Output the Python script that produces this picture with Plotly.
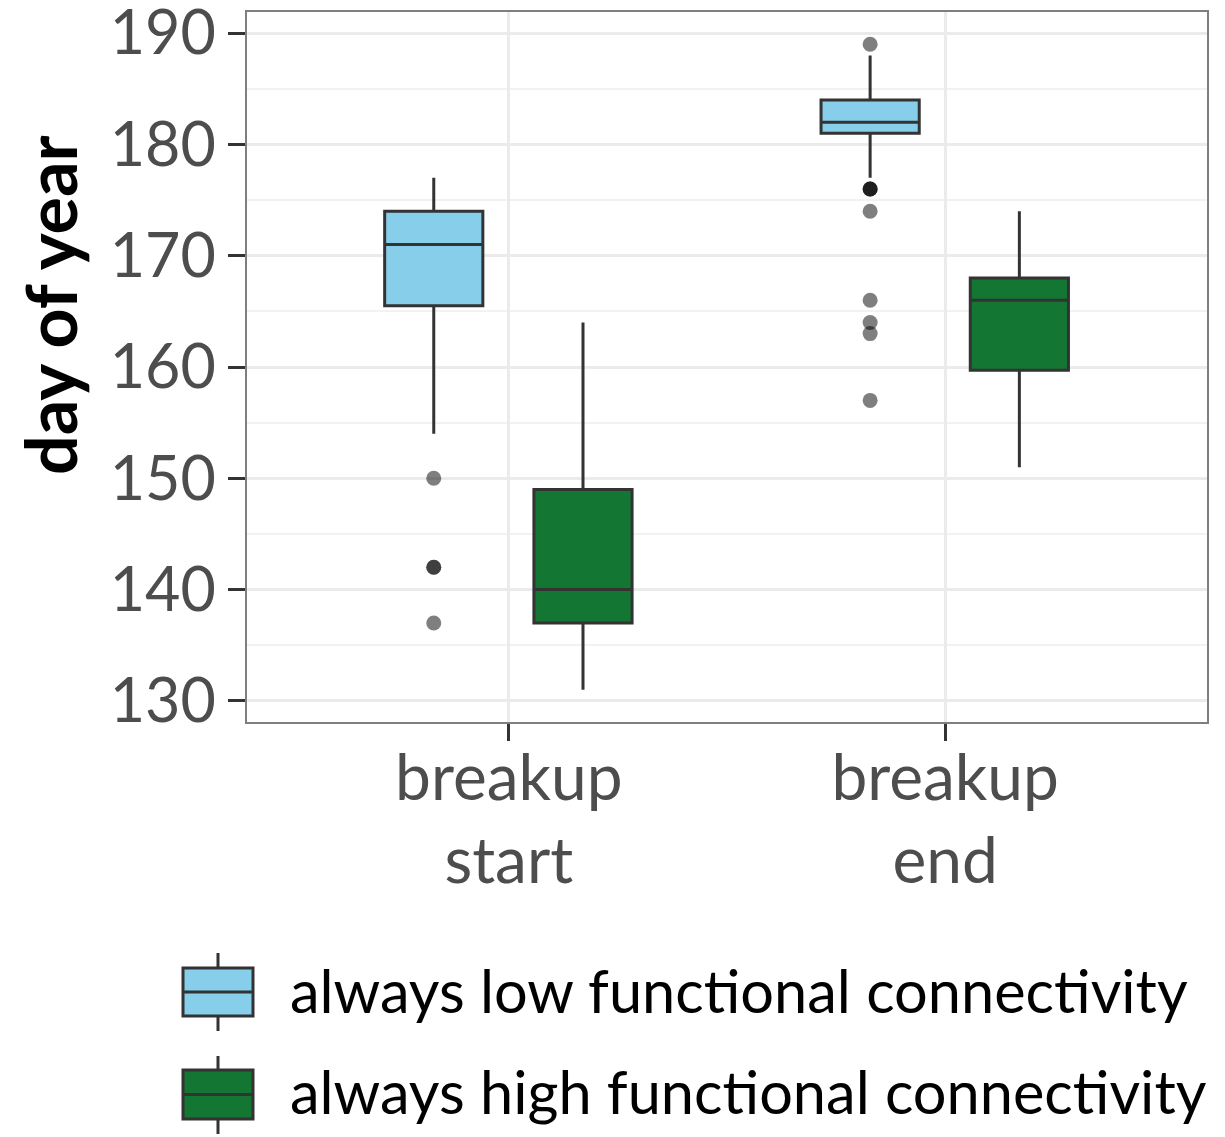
import plotly.graph_objects as go

# ---- data ----
categories = ["breakup<br>start", "breakup<br>end"]
cat_pos = [1, 2]
groups = ["always low functional connectivity", "always high functional connectivity"]
group_colors = ["#87CEEB", "#137633"]
group_offsets = [-0.172, 0.17]
y_ticks = [130, 140, 150, 160, 170, 180, 190]
y_minor = [135, 145, 155, 165, 175, 185]

# per group: [start, end]
low_upper = [177, 188]
low_q3 = [174, 184]
low_median = [171, 182]
low_q1 = [165.5, 181]
low_lower = [154, 177]
low_outliers = [[150, 142, 142, 137], [189, 176, 176, 176, 174, 166, 164, 163, 157]]

high_upper = [164, 174]
high_q3 = [149, 168]
high_median = [140, 166]
high_q1 = [137, 159.7]
high_lower = [131, 151]
high_outliers = [[], []]

stats = [
    (low_lower, low_q1, low_median, low_q3, low_upper, low_outliers),
    (high_lower, high_q1, high_median, high_q3, high_upper, high_outliers),
]

FONT = "Lato"
fig = go.Figure()
BOXW = 0.225
for gi, (lo, q1, med, q3, up, outl) in enumerate(stats):
    xs = [p + group_offsets[gi] for p in cat_pos]
    fig.add_trace(go.Box(
        x=xs, q1=q1, median=med, q3=q3, lowerfence=lo, upperfence=up,
        width=BOXW, whiskerwidth=0, fillcolor=group_colors[gi],
        line=dict(color="#333333", width=3), boxpoints=False,
        name=groups[gi], showlegend=False,
    ))
    ox, oy = [], []
    for ci, vals in enumerate(outl):
        for v in vals:
            ox.append(xs[ci]); oy.append(v)
    if ox:
        fig.add_trace(go.Scatter(
            x=ox, y=oy, mode="markers", showlegend=False,
            marker=dict(color="rgba(0,0,0,0.5)", size=15, line=dict(width=0)),
        ))

# ---- manual legend (ggplot-style key) ----
L, T, PW, PH = 247, 12, 960, 710
def px(x):
    return (x - L) / PW
def py(y):
    return (T + PH - y) / PH

shapes = []
annots = []
leg_rows = [(968, 1016, 953, 1031, 990), (1070, 1119, 1056, 1134, 1091)]
for gi, (bt, bb, wt, wb, ty) in enumerate(leg_rows):
    cx = 218
    shapes.append(dict(type="line", xref="paper", yref="paper", x0=px(cx), x1=px(cx),
                       y0=py(wt), y1=py(wb), line=dict(color="#333333", width=3)))
    shapes.append(dict(type="rect", xref="paper", yref="paper", x0=px(183), x1=px(253),
                       y0=py(bb), y1=py(bt), fillcolor=group_colors[gi],
                       line=dict(color="#333333", width=3)))
    mid = (bt + bb) / 2
    shapes.append(dict(type="line", xref="paper", yref="paper", x0=px(183), x1=px(253),
                       y0=py(mid), y1=py(mid), line=dict(color="#333333", width=3)))
    annots.append(dict(xref="paper", yref="paper", x=px(288), y=py(ty), xanchor="left",
                       yanchor="middle", text=groups[gi], showarrow=False,
                       font=dict(family=FONT, size=59.5, color="black")))

# y-axis title (ggplot placement)
annots.append(dict(xref="paper", yref="paper", x=px(50), y=py(305), xanchor="center",
                   yanchor="middle", text="<b>day of year</b>", textangle=-90,
                   showarrow=False, font=dict(family=FONT, size=70, color="black")))

fig.update_layout(
    width=1225, height=1137,
    margin=dict(l=L, r=1225 - L - PW, t=T, b=1137 - T - PH),
    paper_bgcolor="white", plot_bgcolor="white",
    boxmode="overlay",
    shapes=shapes, annotations=annots,
    font=dict(family=FONT),
)
fig.update_xaxes(
    range=[0.4, 2.6], tickvals=cat_pos, ticktext=categories,
    tickfont=dict(family=FONT, size=64, color="#4D4D4D"),
    ticks="outside", ticklen=17, tickwidth=3, tickcolor="#333333",
    ticklabelstandoff=-18,
    showgrid=True, gridcolor="#EBEBEB", gridwidth=3,
    showline=True, linecolor="#7F7F7F", linewidth=2, mirror=True,
    zeroline=False, ticklabeloverflow="allow", automargin=False,
)
fig.update_yaxes(
    range=[128.1, 191.9], tickvals=y_ticks,
    tickfont=dict(family=FONT, size=61, color="#4D4D4D"),
    ticks="outside", ticklen=17, tickwidth=3, tickcolor="#333333",
    showgrid=True, gridcolor="#EBEBEB", gridwidth=3,
    minor=dict(tickvals=y_minor, showgrid=True,
               gridcolor="#F2F2F2", gridwidth=1.5, ticks=""),
    showline=True, linecolor="#7F7F7F", linewidth=2, mirror=True,
    zeroline=False, ticklabeloverflow="allow", automargin=False,
)

fig.write_html("out.html")
